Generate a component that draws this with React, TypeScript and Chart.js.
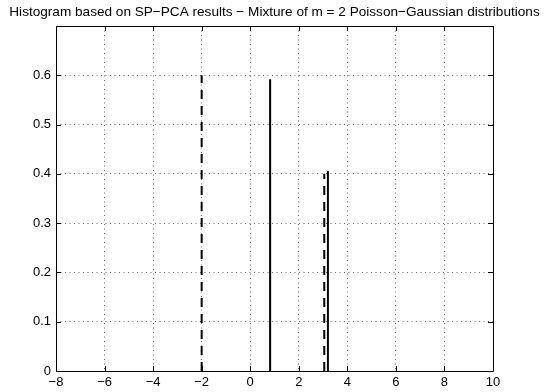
import React, { useEffect, useRef } from 'react';
import { Chart, registerables } from 'chart.js';

Chart.register(...registerables);

const TITLE = 'Histogram based on SP−PCA results − Mixture of m = 2 Poisson−Gaussian distributions';
const X_TICKS = [-8, -6, -4, -2, 0, 2, 4, 6, 8, 10];
const Y_TICKS = [0, 0.1, 0.2, 0.3, 0.4, 0.5, 0.6, 0.7];
const TRUE_POS = [-2, 3.05];
const TRUE_WEIGHTS = [0.6, 0.4];
const EST_POS = [0.82, 3.2];
const EST_WEIGHTS = [0.592, 0.406];

const FONT = "'Liberation Sans', Arial, Helvetica, sans-serif";

const framePlugin = {
  id: 'matlabFrame',
  afterDraw(chart: any) {
    const { ctx, chartArea } = chart;
    const xs = chart.scales.x;
    const ys = chart.scales.y;
    const L = Math.round(chartArea.left);
    const R = Math.round(chartArea.right);
    const T = Math.round(chartArea.top);
    const B = Math.round(chartArea.bottom);
    ctx.save();
    ctx.strokeStyle = '#000';
    ctx.lineWidth = 1;
    ctx.setLineDash([]);
    ctx.beginPath();
    ctx.rect(L + 0.5, T + 0.5, R - L, B - T);
    ctx.stroke();
    const tl = 5;
    ctx.beginPath();
    X_TICKS.forEach((v) => {
      const px = Math.round(xs.getPixelForValue(v)) + 0.5;
      ctx.moveTo(px, B);
      ctx.lineTo(px, B - tl);
      ctx.moveTo(px, T);
      ctx.lineTo(px, T + tl);
    });
    Y_TICKS.forEach((v) => {
      const py = Math.round(ys.getPixelForValue(v)) + 0.5;
      ctx.moveTo(L, py);
      ctx.lineTo(L + tl, py);
      ctx.moveTo(R, py);
      ctx.lineTo(R - tl, py);
    });
    ctx.stroke();
    // title
    ctx.fillStyle = '#000';
    ctx.font = `13.6px ${FONT}`;
    ctx.textAlign = 'center';
    ctx.textBaseline = 'alphabetic';
    ctx.fillText(TITLE, (chartArea.left + chartArea.right) / 2, 15.5);
    ctx.restore();
  },
};

function stem(x: number, h: number, dashed: boolean) {
  return {
    type: 'line' as const,
    data: [
      { x, y: 0 },
      { x, y: h },
    ],
    showLine: true,
    borderColor: '#000',
    borderWidth: 2,
    borderDash: dashed ? [9, 7] : [],
    pointRadius: 0,
    fill: false,
  };
}

export default function App() {
  const ref = useRef<HTMLCanvasElement | null>(null);
  useEffect(() => {
    if (!ref.current) return;
    const datasets: any[] = [];
    TRUE_POS.forEach((p, i) => datasets.push(stem(p, TRUE_WEIGHTS[i], true)));
    EST_POS.forEach((p, i) => datasets.push(stem(p, EST_WEIGHTS[i], false)));
    const chart = new Chart(ref.current, {
      type: 'scatter',
      data: { datasets },
      plugins: [framePlugin],
      options: {
        responsive: false,
        animation: false,
        layout: { padding: { top: 26, right: 55, bottom: 0, left: 0 } },
        plugins: {
          legend: { display: false },
          tooltip: { enabled: false },
          title: { display: false },
        },
        scales: {
          x: {
            type: 'linear',
            min: -8,
            max: 10,
            afterFit: (s: any) => {
              s.height = 21;
            },
            afterBuildTicks: (s: any) => {
              s.ticks = X_TICKS.map((v) => ({ value: v }));
            },
            ticks: {
              color: '#000',
              font: { family: FONT, size: 13 },
              padding: 4,
              maxRotation: 0,
              autoSkip: false,
              callback: (v: any) => String(v).replace('-', '−'),
            },
            grid: { color: 'rgba(0,0,0,0.6)', lineWidth: 1, drawTicks: false },
            border: { display: false, dash: [1, 3.5] },
          },
          y: {
            type: 'linear',
            min: 0,
            max: 0.7,
            afterFit: (s: any) => {
              s.width = 56;
            },
            afterBuildTicks: (s: any) => {
              s.ticks = Y_TICKS.map((v) => ({ value: v }));
            },
            ticks: {
              color: '#000',
              font: { family: FONT, size: 13 },
              padding: 5,
              autoSkip: false,
              callback: (v: any) => {
                const n = Number(v);
                if (n > 0.65) return '';
                return n === 0 ? '0' : n.toFixed(1);
              },
            },
            grid: { color: 'rgba(0,0,0,0.6)', lineWidth: 1, drawTicks: false },
            border: { display: false, dash: [1, 3.5] },
          },
        },
      },
    });
    return () => chart.destroy();
  }, []);
  return (
    <div style={{ position: 'absolute', left: 0, top: 0, width: 548, height: 392, background: '#fff' }}>
      <canvas ref={ref} width={548} height={392} />
    </div>
  );
}
